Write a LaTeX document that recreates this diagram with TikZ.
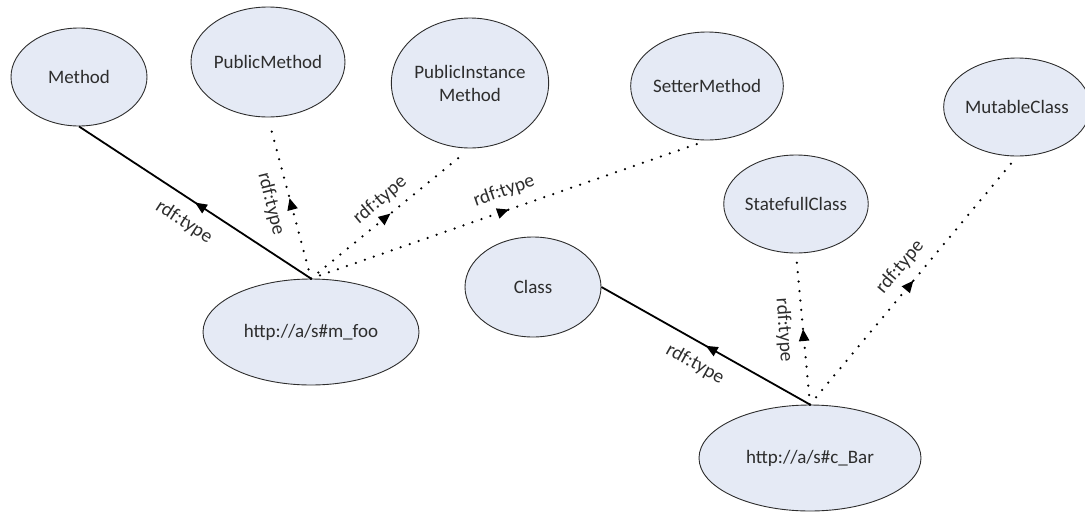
\documentclass[tikz,border=0pt]{standalone}
\usepackage{fontspec}
\setmainfont{Carlito}
\usetikzlibrary{arrows.meta,decorations.markings,shapes.geometric}

\definecolor{classfill}{RGB}{229,234,245}
\definecolor{ink}{RGB}{45,45,45}

\begin{document}
\begin{tikzpicture}[x=1pt,y=-1pt,
  cls/.style={ellipse, draw=ink, line width=0.9pt, fill=classfill,
    inner sep=0pt, text=ink, align=center,
    font=\fontsize{19}{23}\selectfont},
  lbl/.style={text=ink, inner sep=0pt, font=\fontsize{19.5}{21}\selectfont},
  midarrow/.style={postaction={decorate}, decoration={markings,
    mark=at position 0.5 with {\arrow{Triangle[length=12pt,width=10pt]}}}},
  typeedge/.style={draw=black, line width=1.8pt, midarrow},
  inferedge/.style={draw=black, line width=2.5pt, line cap=round,
    dash pattern=on 0pt off 9.5pt, shorten >=8pt, midarrow}
]
\useasboundingbox (0,0) rectangle (1085,512);

% classes
\node[cls, minimum width=136pt, minimum height=98pt]  (method)   at (79,77)   {Method};
\node[cls, minimum width=154pt, minimum height=110pt] (pubm)     at (268,62)  {PublicMethod};
\node[cls, minimum width=146pt, minimum height=130pt] (pubinst)  at (470,83)  {PublicInstance\\Method};
\node[cls, minimum width=152pt, minimum height=108pt] (setter)   at (707,86)  {SetterMethod};
\node[cls, minimum width=134pt, minimum height=98pt]  (mutable)  at (1017,107){MutableClass};
\node[cls, minimum width=136pt, minimum height=98pt]  (stateful) at (796,204) {StatefullClass};
\node[cls, minimum width=136pt, minimum height=100pt] (class)    at (533,287) {Class};

% instances
\node[cls, minimum width=216pt, minimum height=106pt] (foo) at (311,332) {http://a/s\#m\_foo};
\node[cls, minimum width=222pt, minimum height=106pt] (bar) at (810,458) {http://a/s\#c\_Bar};

% asserted types
\draw[typeedge] (foo.north) -- (method.south);
\draw[typeedge] (bar.north) -- (class.east);

% inferred types
\draw[inferedge] (foo.north) -- (pubm.south);
\draw[inferedge] (foo.north) -- (pubinst.south);
\draw[inferedge] (foo.north) -- (setter.south);
\draw[inferedge] (bar.north) -- (stateful.south);
\draw[inferedge] (bar.north) -- (mutable.south);

% edge labels
\node[lbl, rotate=-33] (l1) at (184,222) {rdf:type};
\node[lbl, rotate=-76] (l2) at (271,204) {rdf:type};
\node[lbl, rotate=40]  (l3) at (380,200) {rdf:type};
\node[lbl, rotate=19]  (l4) at (504,191) {rdf:type};
\node[lbl, rotate=-29] (l5) at (695,364) {rdf:type};
\node[lbl, rotate=-86] (l6) at (784,330) {rdf:type};
\node[lbl, rotate=50]  (l7) at (900,267) {rdf:type};
\end{tikzpicture}
\end{document}
